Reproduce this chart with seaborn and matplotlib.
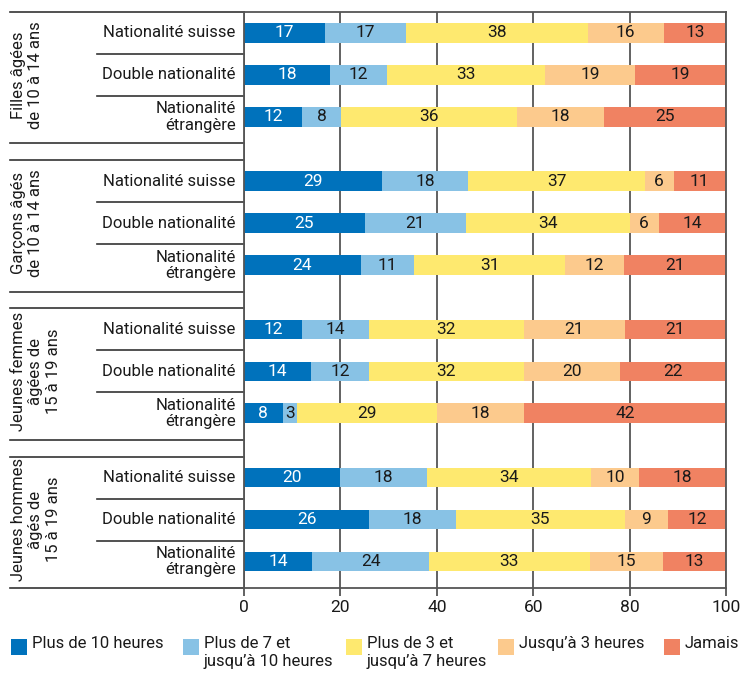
import pandas as pd
import matplotlib.pyplot as plt
import matplotlib.transforms as mtransforms
from matplotlib.patches import Rectangle
import seaborn as sns

# Groups, rows and categories
groups = ['Filles âgées\nde 10 à 14 ans', 'Garçons âgés\nde 10 à 14 ans',
          'Jeunes femmes\nâgées de\n15 à 19 ans', 'Jeunes hommes\nâgés de\n15 à 19 ans']
nationalities = ['Nationalité suisse', 'Double nationalité', 'Nationalité\nétrangère']
categories = ['Plus de 10 heures', 'Plus de 7 et\njusqu’à 10 heures', 'Plus de 3 et\njusqu’à 7 heures',
              'Jusqu’à 3 heures', 'Jamais']
colors = ['#0072BC', '#88C2E5', '#FEE96F', '#FCCA8D', '#F08262']

# Values in %, one entry per row (group x nationality, top to bottom)
plus_10h = [17, 18, 12, 29, 25, 24, 12, 14, 8, 20, 26, 14]
plus_7h = [17, 12, 8, 18, 21, 11, 14, 12, 3, 18, 18, 24]
plus_3h = [38, 33, 36, 37, 34, 31, 32, 32, 29, 34, 35, 33]
upto_3h = [16, 19, 18, 6, 6, 12, 21, 20, 18, 10, 9, 15]
never = [13, 19, 25, 11, 14, 21, 21, 22, 42, 18, 12, 13]

series = [plus_10h, plus_7h, plus_3h, upto_3h, never]
group_step = 3.53

# Build a long table with bar positions and cumulative shares
records = []
for i in range(len(plus_10h)):
    g, r = divmod(i, 3)
    total = sum(s[i] for s in series)
    cum = 0
    for c, s in enumerate(series):
        share = s[i] / total * 100
        cum += share
        records.append({'pos': g * group_step + r, 'cat': c, 'value': s[i],
                        'share': share, 'cum': cum})
df = pd.DataFrame(records)

plt.rcParams['font.family'] = ['Roboto', 'DejaVu Sans']
fs = 12
fig = plt.figure(figsize=(7.41, 6.79), dpi=100)
ax = fig.add_axes([244 / 741, 1 - 588 / 679, 482 / 741, 576 / 679])

# Stacked bars: draw cumulative totals from the last category backwards
for c in reversed(range(len(categories))):
    sns.barplot(data=df[df['cat'] == c], x='cum', y='pos', orient='y', native_scale=True,
                color=colors[c], saturation=1, width=0.47, linewidth=0, errorbar=None, ax=ax)

# Value labels
for row in df.itertuples():
    ax.text(row.cum - row.share / 2, row.pos, str(int(row.value)),
            ha='center', va='center', fontsize=fs + 0.5,
            color='white' if row.cat == 0 else '#1a1a1a')

ax.set_xlim(0, 100)
ax.set_ylim(3 * group_step + 2 + 0.63, -0.5)
ax.set_xticks([0, 20, 40, 60, 80, 100])
ax.set_yticks([])
ax.set_xlabel('')
ax.set_ylabel('')
ax.set_axisbelow(True)
ax.xaxis.grid(True, color='#555555', linewidth=1.3)
ax.tick_params(axis='x', length=6, width=1.3, color='#555555', labelsize=fs + 0.5,
               labelcolor='#1a1a1a', pad=3)
for sp in ax.spines.values():
    sp.set_color('#555555')
    sp.set_linewidth(1.3)

# Left side: row labels, group labels and separator lines
trans = mtransforms.blended_transform_factory(ax.transAxes, ax.transData)
x_outer = (10 - 244) / 482
x_inner = (97 - 244) / 482
for g, glabel in enumerate(groups):
    base = g * group_step
    for r, nlabel in enumerate(nationalities):
        ax.text(-0.017, base + r, nlabel, transform=trans, ha='right', va='center',
                multialignment='right', fontsize=fs, color='#1a1a1a', linespacing=1.1)
    for y in (base + 0.5, base + 1.5):
        ax.plot([x_inner, 0], [y, y], transform=trans, clip_on=False, color='#333333', linewidth=1.2)
    for y in (base - 0.5, base + 2.63):
        ax.plot([x_outer, 0], [y, y], transform=trans, clip_on=False, color='#333333', linewidth=1.2)
    ax.text((11 - 244) / 482, base + 1, glabel, transform=trans, rotation=90,
            ha='left', va='center', multialignment='center', fontsize=fs, color='#1a1a1a',
            linespacing=1.2)

# Legend drawn by hand along the bottom
leg_x = [11, 183, 346, 498, 664]
for c, lx in enumerate(leg_x):
    fig.add_artist(Rectangle((lx / 741, 1 - 655 / 679), 16 / 741, 16 / 679,
                             transform=fig.transFigure, color=colors[c], linewidth=0))
    fig.text((lx + 21) / 741, 1 - 636 / 679, categories[c], ha='left', va='top',
             fontsize=fs, color='#1a1a1a', linespacing=1.25)

plt.savefig('out.png', dpi=100)
